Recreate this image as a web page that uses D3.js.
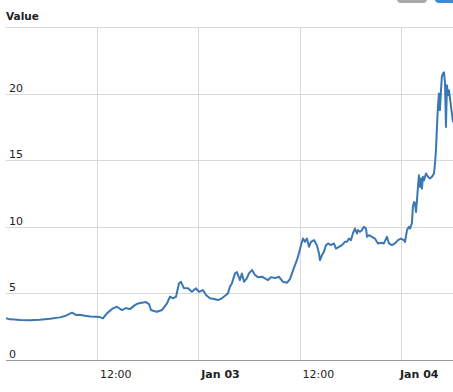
<!DOCTYPE html>
<html>
<head>
<meta charset="utf-8">
<script src="https://cdn.jsdelivr.net/npm/d3@7"></script>
<style>
  html, body { margin: 0; padding: 0; background: #fff; }
  svg { display: block; font-family: "DejaVu Sans", Verdana, sans-serif; }
</style>
</head>
<body>
<svg id="chart" width="453" height="392"></svg>
<script>
// ---- data ----
const times = [
  "Jan 02 01:14","Jan 02 01:42","Jan 02 02:18","Jan 02 02:53","Jan 02 04:04","Jan 02 05:15","Jan 02 06:26","Jan 02 07:37",
  "Jan 02 08:13","Jan 02 09:03","Jan 02 09:31","Jan 02 09:59","Jan 02 10:35","Jan 02 11:11","Jan 02 11:53","Jan 02 12:22",
  "Jan 02 12:43","Jan 02 13:11","Jan 02 13:54","Jan 02 14:22","Jan 02 14:58","Jan 02 15:26","Jan 02 15:55","Jan 02 16:30",
  "Jan 02 16:52","Jan 02 17:20","Jan 02 17:48","Jan 02 18:10","Jan 02 18:24","Jan 02 18:45","Jan 02 19:07","Jan 02 19:42",
  "Jan 02 20:18","Jan 02 20:39","Jan 02 21:00","Jan 02 21:22","Jan 02 21:43","Jan 02 21:57","Jan 02 22:18","Jan 02 22:47",
  "Jan 02 23:15","Jan 02 23:44","Jan 03 00:05","Jan 03 00:33","Jan 03 00:55","Jan 03 01:23","Jan 03 01:52","Jan 03 02:20",
  "Jan 03 02:48","Jan 03 03:17","Jan 03 03:31","Jan 03 03:45","Jan 03 03:59","Jan 03 04:21","Jan 03 04:35","Jan 03 04:56",
  "Jan 03 05:10","Jan 03 05:25","Jan 03 05:46","Jan 03 06:00","Jan 03 06:22","Jan 03 06:43","Jan 03 07:04","Jan 03 07:33",
  "Jan 03 07:54","Jan 03 08:15","Jan 03 08:37","Jan 03 09:05","Jan 03 09:33","Jan 03 10:02","Jan 03 10:30","Jan 03 10:52",
  "Jan 03 11:06","Jan 03 11:27","Jan 03 11:41","Jan 03 11:55","Jan 03 12:10","Jan 03 12:24","Jan 03 12:38","Jan 03 12:52",
  "Jan 03 13:07","Jan 03 13:21","Jan 03 13:42","Jan 03 14:03","Jan 03 14:18","Jan 03 14:25","Jan 03 14:39","Jan 03 14:53",
  "Jan 03 15:07","Jan 03 15:22","Jan 03 15:43","Jan 03 16:04","Jan 03 16:18","Jan 03 16:40","Jan 03 17:01","Jan 03 17:22",
  "Jan 03 17:37","Jan 03 17:51","Jan 03 18:05","Jan 03 18:19","Jan 03 18:33","Jan 03 18:48","Jan 03 18:55","Jan 03 19:09",
  "Jan 03 19:23","Jan 03 19:37","Jan 03 19:52","Jan 03 19:59","Jan 03 20:13","Jan 03 20:34","Jan 03 20:55","Jan 03 21:17",
  "Jan 03 21:38","Jan 03 21:59","Jan 03 22:21","Jan 03 22:35","Jan 03 22:56","Jan 03 23:18","Jan 03 23:39","Jan 04 00:00",
  "Jan 04 00:21","Jan 04 00:29","Jan 04 00:43","Jan 04 00:57","Jan 04 01:04","Jan 04 01:18","Jan 04 01:25","Jan 04 01:33",
  "Jan 04 01:40","Jan 04 01:47","Jan 04 01:54","Jan 04 02:01","Jan 04 02:08","Jan 04 02:15","Jan 04 02:22","Jan 04 02:29",
  "Jan 04 02:36","Jan 04 02:44","Jan 04 02:58","Jan 04 03:12","Jan 04 03:26","Jan 04 03:40","Jan 04 03:55","Jan 04 04:02",
  "Jan 04 04:09","Jan 04 04:16","Jan 04 04:23","Jan 04 04:30","Jan 04 04:37","Jan 04 04:44","Jan 04 04:51","Jan 04 04:59",
  "Jan 04 05:06","Jan 04 05:13","Jan 04 05:20","Jan 04 05:27","Jan 04 05:34","Jan 04 05:41","Jan 04 05:48","Jan 04 05:55",
  "Jan 04 06:10"
];
const values = [
  3.13,3.05,3.04,3.00,2.98,3.02,3.10,3.20,
  3.30,3.55,3.38,3.40,3.32,3.26,3.25,3.22,
  3.13,3.50,3.88,4.00,3.75,3.90,3.82,4.12,
  4.25,4.30,4.35,4.20,3.75,3.68,3.62,3.75,
  4.25,4.75,4.63,4.75,5.75,5.87,5.40,5.38,
  5.12,5.38,5.12,5.25,4.88,4.63,4.58,4.50,
  4.63,4.88,5.00,5.50,5.75,6.50,6.60,6.00,
  6.50,5.87,6.15,6.50,6.75,6.38,6.22,6.25,
  6.13,6.00,6.22,6.15,6.25,5.87,5.80,6.07,
  6.50,7.12,7.50,8.00,8.62,9.12,8.87,9.12,
  8.50,8.87,9.00,8.62,8.00,7.50,7.87,8.12,
  8.62,8.75,8.62,8.75,8.37,8.50,8.62,8.87,
  8.87,9.12,9.00,9.50,9.87,9.50,9.75,9.62,
  9.75,10.00,9.87,9.25,9.37,9.25,9.12,8.75,
  8.80,8.75,9.25,8.75,8.62,8.75,9.00,9.12,
  9.00,8.87,9.75,10.00,9.87,10.25,11.50,11.87,
  11.75,11.12,12.00,13.00,13.87,13.00,13.62,12.87,
  13.75,13.50,14.00,13.75,13.62,13.75,14.00,14.75,
  15.75,17.50,19.00,20.00,18.75,20.10,21.30,21.50,
  21.60,20.85,17.50,20.62,19.87,20.25,19.72,19.12,
  17.85
];
const xDomain = ["Jan 02 01:14", "Jan 04 06:10"];
const xTickTimes = ["Jan 02 12:00", "Jan 03 00:00", "Jan 03 12:00", "Jan 04 00:00"];
const xTickLabels = ["12:00", "Jan 03", "12:00", "Jan 04"];
const xTickBold = [false, true, false, true];
const yGridValues = [0, 5, 10, 15, 20, 25];
const yLabelValues = [0, 5, 10, 15, 20];
const yTitle = "Value";

// ---- drawing ----
const parse = d3.timeParse("%b %d %H:%M");
const data = times.map((t, i) => ({ t: parse(t), v: values[i] }));

const svg = d3.select("#chart");
const mLeft = 6, mRight = 453, mTop = 27, mBottom = 360;

const x = d3.scaleTime().domain(xDomain.map(parse)).range([mLeft, mRight]);
const y = d3.scaleLinear().domain([0, 25]).range([mBottom, mTop]);

// top-right buttons (partially visible)
svg.append("rect").attr("x", 397).attr("y", -8).attr("width", 30).attr("height", 11)
  .attr("rx", 4).attr("fill", "#a9a9a9");
svg.append("rect").attr("x", 435).attr("y", -8).attr("width", 30).attr("height", 11)
  .attr("rx", 4).attr("fill", "#3d8ad6");

// horizontal grid
const yAxis = d3.axisLeft(y).tickValues(yGridValues).tickSize(-(mRight - mLeft)).tickFormat("");
const gy = svg.append("g").attr("transform", `translate(${mLeft},0)`).call(yAxis);
gy.select(".domain").remove();
gy.selectAll(".tick line").attr("stroke", "#d9d9d9").attr("shape-rendering", "crispEdges");
gy.selectAll(".tick").filter(d => d === 0).remove();

// vertical grid
const xGrid = d3.axisBottom(x).tickValues(xTickTimes.map(parse)).tickSize(-(mBottom - mTop)).tickFormat("");
const gx = svg.append("g").attr("transform", `translate(0,${mBottom})`).call(xGrid);
gx.select(".domain").remove();
gx.selectAll(".tick line").attr("stroke", "#d9d9d9").attr("shape-rendering", "crispEdges");

// y labels
svg.append("g").selectAll("text").data(yLabelValues).join("text")
  .attr("x", 9).attr("y", d => y(d) - 2)
  .attr("font-size", 11).attr("fill", "#222")
  .text(d => d);

// line
const line = d3.line().x(d => x(d.t)).y(d => y(d.v));
svg.append("defs").append("clipPath").attr("id", "clip")
  .append("rect").attr("x", mLeft).attr("y", 0).attr("width", mRight - mLeft).attr("height", mBottom);
svg.append("path").datum(data)
  .attr("clip-path", "url(#clip)")
  .attr("fill", "none").attr("stroke", "#3a77b4").attr("stroke-width", 2)
  .attr("stroke-linejoin", "round")
  .attr("d", line);

// bottom axis line
svg.append("line").attr("x1", mLeft).attr("x2", mRight).attr("y1", mBottom + 0.5).attr("y2", mBottom + 0.5)
  .attr("stroke", "#999");

// x tick labels
svg.append("g").selectAll("text")
  .data(xTickTimes.map((t, i) => ({ t: parse(t), label: xTickLabels[i], bold: xTickBold[i] })))
  .join("text")
  .attr("x", d => Math.min(x(d.t) + 3, mRight - 53))
  .attr("y", 378)
  .attr("font-size", 11)
  .attr("font-weight", d => d.bold ? "bold" : "normal")
  .attr("fill", "#222")
  .text(d => d.label);

// y title
svg.append("text").attr("x", 6).attr("y", 20)
  .attr("font-size", 10.5).attr("font-weight", "bold").attr("fill", "#222")
  .text(yTitle);
</script>
</body>
</html>
